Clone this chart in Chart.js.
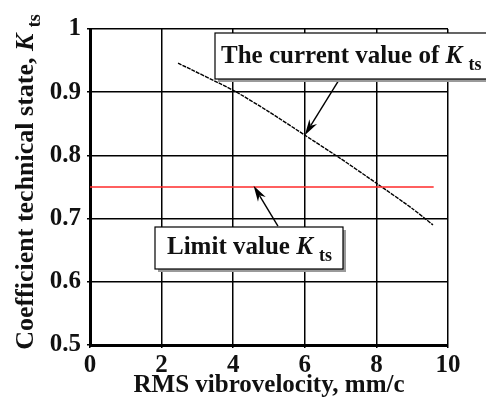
<!DOCTYPE html>
<html>
<head>
<meta charset="utf-8">
<script src="https://cdn.jsdelivr.net/npm/chart.js@4"></script>
<style>
  html, body { margin: 0; padding: 0; background: #fff; }
  #wrap { width: 486px; height: 401px; }
</style>
</head>
<body>
<div id="wrap"><canvas id="kts"></canvas></div>
<script>
// values
const xTicks = [0, 2, 4, 6, 8, 10];
const yTicks = [0.5, 0.6, 0.7, 0.8, 0.9, 1];
const currentX = [2.46, 4, 5, 6, 7, 8, 9, 9.58];
const currentY = [0.946, 0.903, 0.869, 0.832, 0.795, 0.756, 0.716, 0.69];
const limitX = [0, 9.6];
const limitY = [0.75, 0.75];

const serif = "'Liberation Serif', 'Times New Roman', serif";

// draw "text K_ts" with italic K and subscript
function richText(ctx, x, y, main, size) {
  ctx.textAlign = 'left';
  ctx.textBaseline = 'alphabetic';
  ctx.font = 'bold ' + size + 'px ' + serif;
  ctx.fillText(main, x, y);
  x += ctx.measureText(main).width;
  ctx.font = 'italic bold ' + size + 'px ' + serif;
  ctx.fillText('K', x, y);
  x += ctx.measureText('K ').width;
  ctx.font = 'bold ' + Math.round(size * 0.7) + 'px ' + serif;
  ctx.fillText('ts', x, y + size * 0.28);
}

function richWidth(ctx, main, size) {
  ctx.font = 'bold ' + size + 'px ' + serif;
  let w = ctx.measureText(main).width;
  ctx.font = 'italic bold ' + size + 'px ' + serif;
  w += ctx.measureText('K ').width;
  ctx.font = 'bold ' + Math.round(size * 0.7) + 'px ' + serif;
  return w + ctx.measureText('ts').width;
}

function arrow(ctx, x1, y1, x2, y2) {
  const a = Math.atan2(y2 - y1, x2 - x1);
  const len = 16, half = 4.5;
  ctx.strokeStyle = '#000';
  ctx.fillStyle = '#000';
  ctx.lineWidth = 1.4;
  ctx.beginPath();
  ctx.moveTo(x1, y1);
  ctx.lineTo(x2 - Math.cos(a) * len * 0.7, y2 - Math.sin(a) * len * 0.7);
  ctx.stroke();
  ctx.beginPath();
  ctx.moveTo(x2, y2);
  ctx.lineTo(x2 - Math.cos(a) * len - Math.sin(a) * half, y2 - Math.sin(a) * len + Math.cos(a) * half);
  ctx.lineTo(x2 - Math.cos(a) * len * 0.7, y2 - Math.sin(a) * len * 0.7);
  ctx.lineTo(x2 - Math.cos(a) * len + Math.sin(a) * half, y2 - Math.sin(a) * len - Math.cos(a) * half);
  ctx.closePath();
  ctx.fill();
}

function box(ctx, l, t, r, b) {
  ctx.fillStyle = '#9a9a9a';
  ctx.fillRect(l + 3, t + 3, r - l, b - t);
  ctx.fillStyle = '#fff';
  ctx.fillRect(l, t, r - l, b - t);
  ctx.strokeStyle = '#000';
  ctx.lineWidth = 1.2;
  ctx.strokeRect(l, t, r - l, b - t);
}

const notes = {
  id: 'notes',
  afterDraw(chart) {
    const ctx = chart.ctx;
    const xs = chart.scales.x, ys = chart.scales.y;
    ctx.save();

    // arrows
    arrow(ctx, xs.getPixelForValue(6.93), ys.getPixelForValue(0.917),
      xs.getPixelForValue(6), ys.getPixelForValue(0.832));
    arrow(ctx, xs.getPixelForValue(5.25), ys.getPixelForValue(0.688),
      xs.getPixelForValue(4.57), ys.getPixelForValue(0.752));

    // annotation boxes
    box(ctx, 215, 33, 492, 79);
    ctx.fillStyle = '#111';
    richText(ctx, 221, 63, 'The current value of ', 25);

    box(ctx, 155, 227, 343, 269);
    ctx.fillStyle = '#111';
    richText(ctx, 167, 254, 'Limit value ', 25);

    // y axis title
    const size = 26;
    const w = richWidth(ctx, 'Coefficient technical state, ', size);
    ctx.translate(33, 182);
    ctx.rotate(-Math.PI / 2);
    ctx.fillStyle = '#111';
    richText(ctx, -w / 2, 0, 'Coefficient technical state, ', size);
    ctx.restore();
  }
};

new Chart(document.getElementById('kts'), {
  type: 'scatter',
  data: {
    datasets: [
      {
        label: 'Limit value',
        data: limitX.map((x, i) => ({ x: x, y: limitY[i] })),
        showLine: true,
        borderColor: '#ff2a2a',
        borderWidth: 1.6,
        pointRadius: 0,
      },
      {
        label: 'Current value',
        data: currentX.map((x, i) => ({ x: x, y: currentY[i] })),
        showLine: true,
        borderColor: '#000',
        borderWidth: 1.4,
        borderDash: [4, 1],
        tension: 0.2,
        pointRadius: 0,
      },
    ],
  },
  options: {
    responsive: true,
    maintainAspectRatio: false,
    animation: false,
    layout: {
      padding: { left: 0, right: 38, top: 29, bottom: 0 },
    },
    plugins: {
      legend: { display: false },
      tooltip: { enabled: false },
    },
    scales: {
      x: {
        type: 'linear',
        min: xTicks[0],
        max: xTicks[xTicks.length - 1],
        afterBuildTicks: (s) => { s.ticks = xTicks.map(v => ({ value: v })); },
        afterFit: (s) => { s.height = 56; },
        border: { color: '#000', width: 3 },
        grid: { color: '#000', lineWidth: 1.5, tickLength: 3, tickColor: '#000' },
        ticks: {
          color: '#111',
          padding: 3,
          font: { family: serif, size: 25, weight: 'bold' },
        },
        title: {
          display: true,
          text: 'RMS vibrovelocity, mm/c',
          color: '#111',
          padding: { top: -10, bottom: 0 },
          font: { family: serif, size: 25, weight: 'bold' },
        },
      },
      y: {
        min: yTicks[0],
        max: yTicks[yTicks.length - 1],
        afterBuildTicks: (s) => { s.ticks = yTicks.map(v => ({ value: v })); },
        afterFit: (s) => { s.width = 90; },
        border: { color: '#000', width: 3 },
        grid: { color: '#000', lineWidth: 1.5, tickLength: 3, tickColor: '#000' },
        ticks: {
          color: '#111',
          padding: 6,
          font: { family: serif, size: 25, weight: 'bold' },
          callback: (v) => String(Math.round(v * 10) / 10),
        },
      },
    },
  },
  plugins: [notes],
});
</script>
</body>
</html>
